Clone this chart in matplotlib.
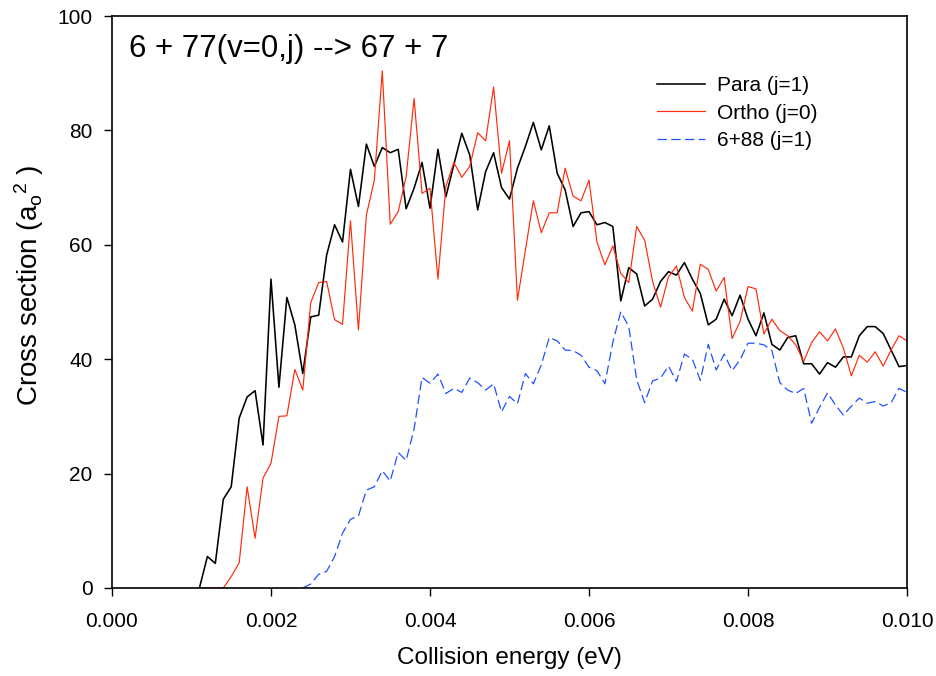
import matplotlib
matplotlib.use("Agg")
import matplotlib.pyplot as plt

plt.rcParams["font.family"] = ["Liberation Sans", "DejaVu Sans"]
plt.rcParams["mathtext.fontset"] = "custom"
plt.rcParams["mathtext.rm"] = "Liberation Sans"
plt.rcParams["mathtext.it"] = "Liberation Sans"

# =========================================================
# Data
# =========================================================
ENERGY = [
    0.0011, 0.0012, 0.0013, 0.0014, 0.0015, 0.0016, 0.0017, 0.0018, 0.0019, 0.0020,
    0.0021, 0.0022, 0.0023, 0.0024, 0.0025, 0.0026, 0.0027, 0.0028, 0.0029, 0.0030,
    0.0031, 0.0032, 0.0033, 0.0034, 0.0035, 0.0036, 0.0037, 0.0038, 0.0039, 0.0040,
    0.0041, 0.0042, 0.0043, 0.0044, 0.0045, 0.0046, 0.0047, 0.0048, 0.0049, 0.0050,
    0.0051, 0.0052, 0.0053, 0.0054, 0.0055, 0.0056, 0.0057, 0.0058, 0.0059, 0.0060,
    0.0061, 0.0062, 0.0063, 0.0064, 0.0065, 0.0066, 0.0067, 0.0068, 0.0069, 0.0070,
    0.0071, 0.0072, 0.0073, 0.0074, 0.0075, 0.0076, 0.0077, 0.0078, 0.0079, 0.0080,
    0.0081, 0.0082, 0.0083, 0.0084, 0.0085, 0.0086, 0.0087, 0.0088, 0.0089, 0.0090,
    0.0091, 0.0092, 0.0093, 0.0094, 0.0095, 0.0096, 0.0097, 0.0098, 0.0099, 0.0100,
]

PARA = [
    0.0, 5.5, 4.3, 15.5, 17.7, 29.7, 33.4, 34.5, 25.0, 54.0,
    35.1, 50.8, 46.0, 37.5, 47.4, 47.7, 58.2, 63.5, 60.5, 73.2,
    66.7, 77.6, 73.7, 77.0, 76.1, 76.7, 66.3, 69.9, 74.4, 66.4,
    76.7, 68.4, 74.0, 79.5, 75.7, 66.1, 72.8, 76.1, 70.0, 68.0,
    73.4, 77.2, 81.4, 76.6, 80.8, 72.5, 69.6, 63.2, 65.6, 65.8,
    63.5, 63.9, 63.2, 50.2, 56.0, 54.9, 49.3, 50.5, 53.6, 55.3,
    54.7, 56.9, 54.0, 51.5, 46.0, 47.0, 50.5, 47.6, 51.2, 47.0,
    44.1, 48.1, 42.6, 41.6, 43.8, 44.1, 39.2, 39.2, 37.4, 39.4,
    38.6, 40.4, 40.4, 44.1, 45.7, 45.7, 44.5, 41.6, 38.7, 38.9,
]

ORTHO = [
    0.0, 0.0, 0.0, 0.0, 2.0, 4.4, 17.7, 8.7, 19.2, 21.8,
    30.0, 30.1, 38.2, 34.6, 49.9, 53.4, 53.6, 46.9, 46.1, 64.2,
    45.1, 65.2, 71.3, 90.4, 63.6, 65.8, 71.9, 85.6, 69.0, 69.9,
    54.0, 70.2, 74.4, 71.8, 73.7, 79.6, 78.2, 87.6, 72.5, 78.2,
    50.3, 59.1, 67.7, 62.1, 65.6, 65.6, 73.4, 68.5, 67.7, 71.3,
    60.5, 56.5, 59.8, 55.0, 53.4, 63.2, 60.8, 53.6, 49.1, 54.4,
    56.3, 50.8, 48.4, 56.6, 55.7, 51.9, 54.3, 43.6, 46.6, 52.7,
    52.3, 44.4, 47.0, 45.0, 44.1, 42.5, 39.6, 42.9, 44.8, 43.2,
    45.3, 41.9, 37.1, 40.7, 39.5, 41.3, 38.8, 41.6, 44.1, 43.2,
]

# 6+88 curve starts at 0.0024 eV (index 13 of ENERGY)
OTHER_START = 13
OTHER = [
    0.0, 0.7, 2.4, 2.9, 5.5, 9.6, 12.0,
    12.6, 17.1, 17.7, 20.5, 18.7, 23.7, 22.3, 27.8, 36.8, 35.8,
    37.4, 34.0, 34.9, 34.2, 36.7, 35.9, 34.6, 35.7, 30.8, 33.5,
    32.2, 37.5, 35.7, 39.0, 43.8, 43.2, 41.6, 41.5, 40.7, 38.6,
    38.0, 35.7, 43.0, 48.3, 45.7, 36.4, 32.4, 36.2, 36.7, 38.8,
    36.1, 40.9, 40.0, 36.3, 42.6, 38.1, 40.9, 38.0, 39.9, 42.8,
    42.8, 42.5, 41.5, 35.9, 34.6, 34.0, 34.9, 28.8, 31.6, 34.1,
    32.0, 30.2, 31.8, 33.2, 32.3, 32.6, 31.8, 32.4, 34.9, 34.2,
]

X_TICKS = [0.000, 0.002, 0.004, 0.006, 0.008, 0.010]
Y_TICKS = [0, 20, 40, 60, 80, 100]

TITLE = "6 + 77(v=0,j) --> 67 + 7"


def main() -> None:
    fig = plt.figure(figsize=(9.37, 6.76), dpi=100)
    ax = fig.add_axes([0.1195, 0.1302, 0.8485, 0.8461])

    ax.plot(ENERGY, PARA, color="black", lw=1.15, label="Para (j=1)")
    ax.plot(ENERGY, ORTHO, color="#ff2a0a", lw=0.85, label="Ortho (j=0)")
    ax.plot(ENERGY[OTHER_START:], OTHER, color="#2050ff", lw=0.9,
            dashes=(7.5, 3.5), label="6+88 (j=1)")

    ax.set_xlim(0.0, 0.010)
    ax.set_ylim(0, 100)
    ax.set_xticks(X_TICKS)
    ax.set_xticklabels([f"{v:.3f}" for v in X_TICKS])
    ax.set_yticks(Y_TICKS)

    for sp in ax.spines.values():
        sp.set_linewidth(1.2)
    ax.tick_params(direction="out", length=6, width=1.0, labelsize=15,
                   top=False, right=False)
    ax.tick_params(axis="x", pad=11)
    ax.tick_params(axis="y", pad=8)

    ax.set_xlabel("Collision energy (eV)", fontsize=17.5, labelpad=12)
    ax.set_ylabel(r"Cross section (a$_\mathregular{o}$$^\mathregular{2}$ )", fontsize=20)
    ax.yaxis.set_label_coords(-0.083, 0.53)

    ax.text(0.022, 0.943, TITLE, transform=ax.transAxes, fontsize=22.5,
            ha="left", va="center")

    ax.legend(loc="upper left", bbox_to_anchor=(0.675, 0.91), frameon=False,
              fontsize=15, handlelength=2.3, handletextpad=0.6,
              labelspacing=0.42, borderaxespad=0.0)

    fig.savefig("out.png", dpi=100)
    plt.close(fig)


if __name__ == "__main__":
    main()
